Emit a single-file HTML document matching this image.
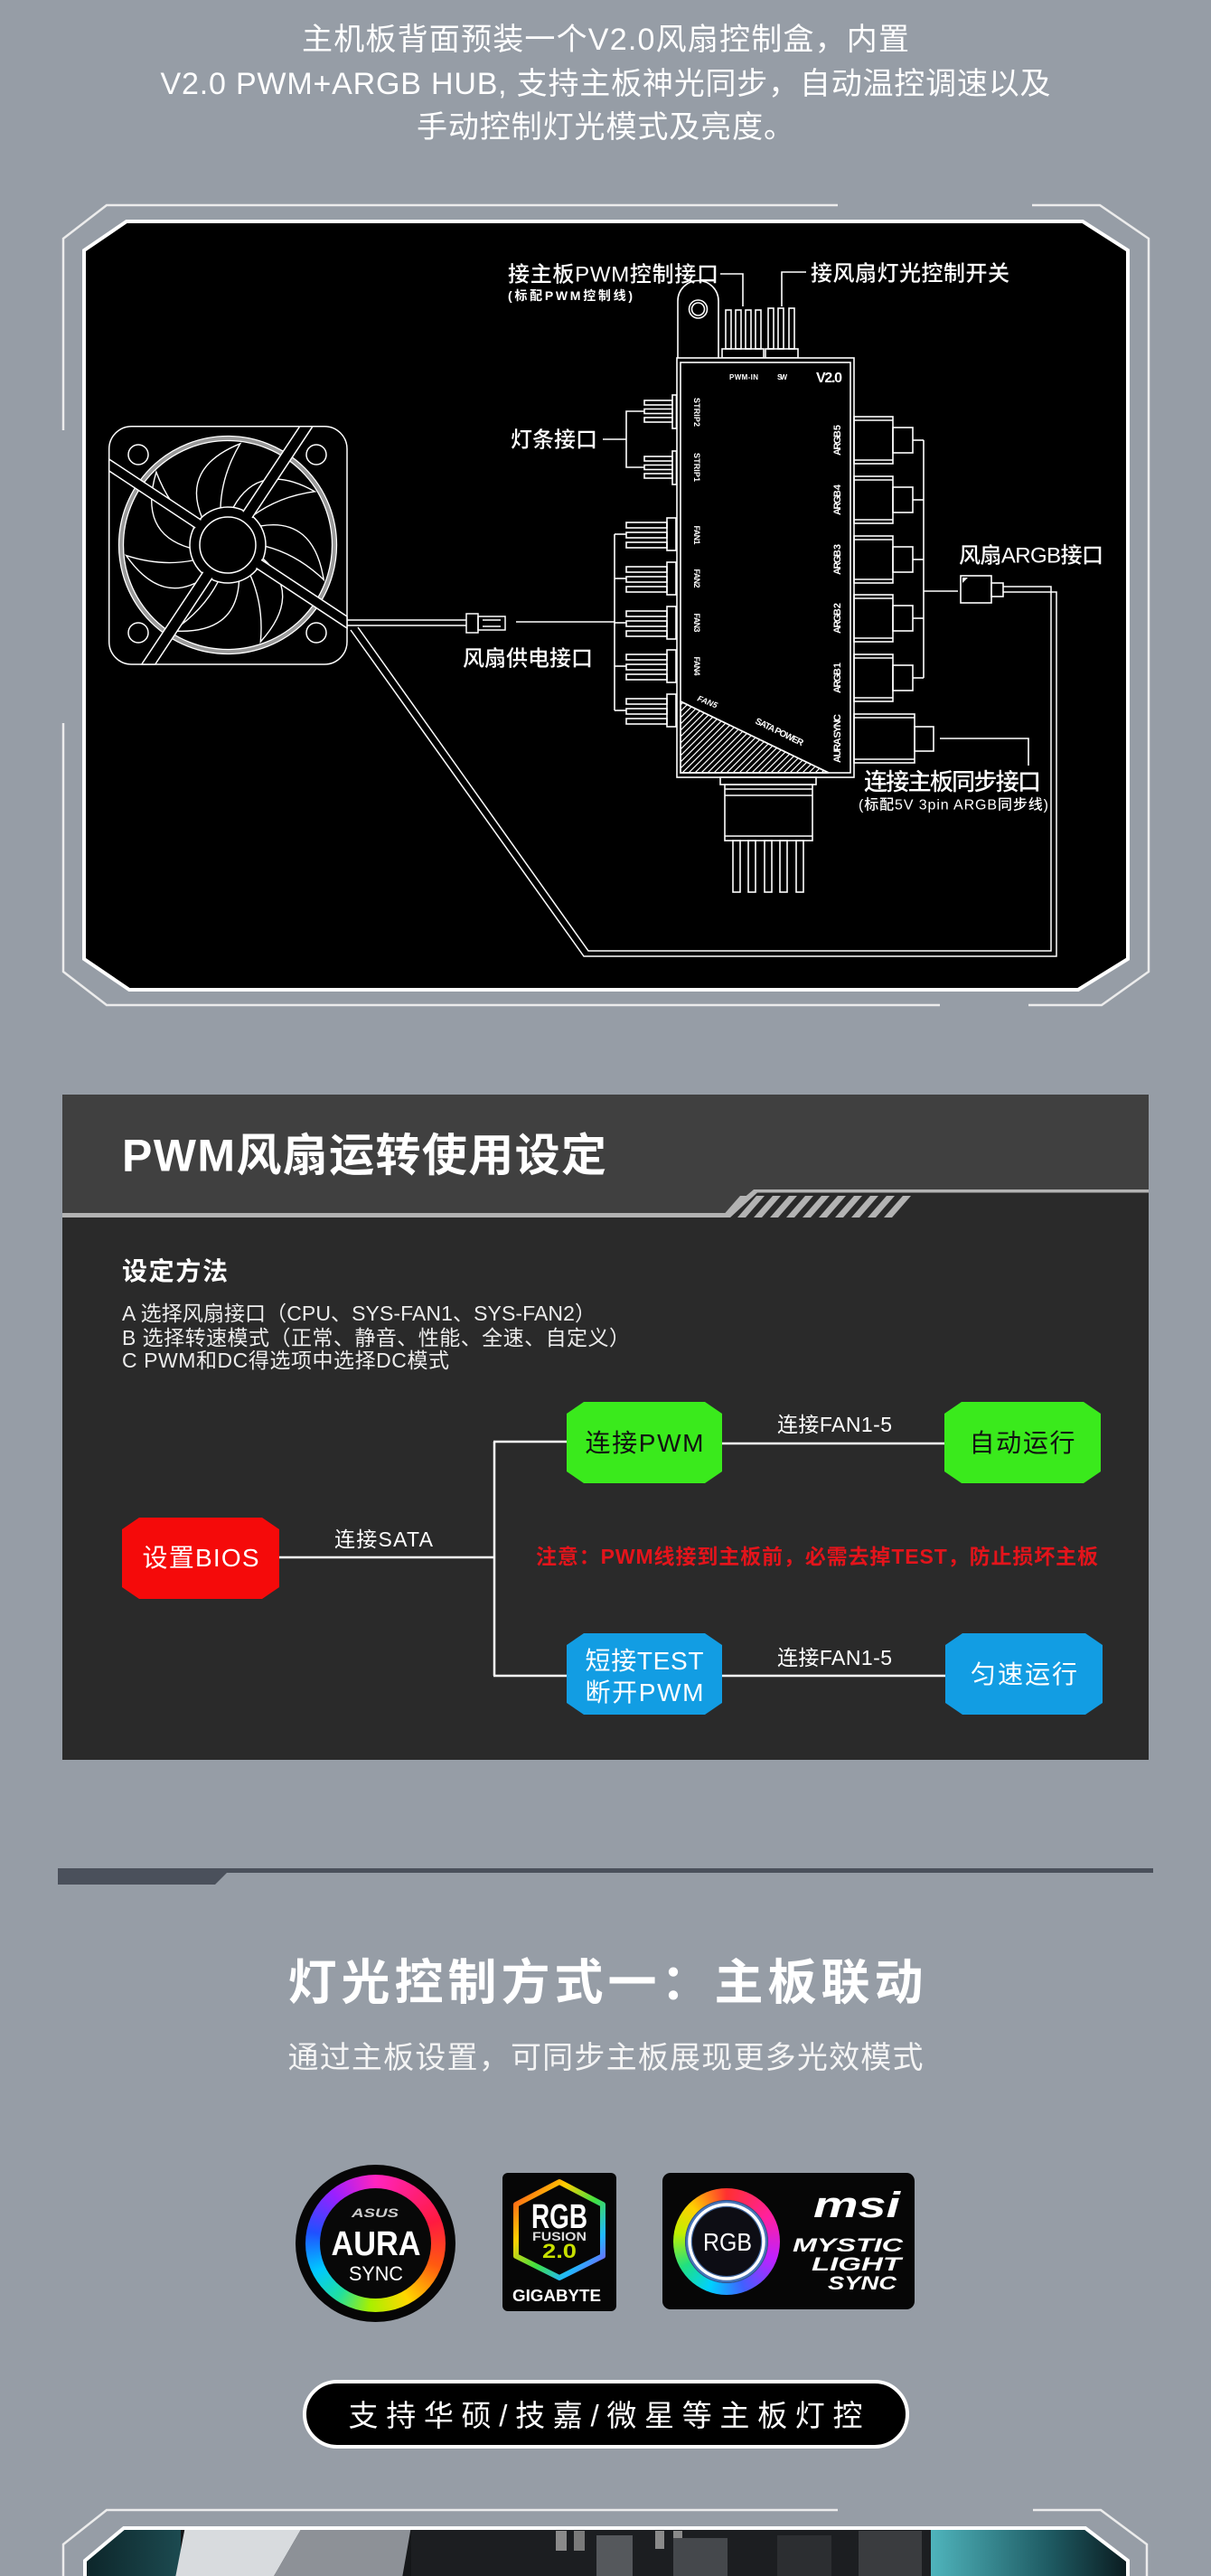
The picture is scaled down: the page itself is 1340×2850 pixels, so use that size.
<!DOCTYPE html>
<html><head><meta charset="utf-8"><style>
html,body{margin:0;padding:0;}
body{width:1340px;height:2850px;background:#969da6;position:relative;overflow:hidden;font-family:"Liberation Sans","Noto Sans CJK SC",sans-serif;}
svg text{font-family:"Liberation Sans","Noto Sans CJK SC",sans-serif;}
.abs{position:absolute;}
.ring{position:absolute;border-radius:50%;}
</style></head><body>
<svg class="abs" style="left:0;top:0" width="1340" height="2850" viewBox="0 0 1340 2850" xmlns="http://www.w3.org/2000/svg">
<defs>
<pattern id="hatch" patternUnits="userSpaceOnUse" width="7" height="7"><path d="M-1,1 L1,-1 M0,7 L7,0 M6,8 L8,6" stroke="#fff" stroke-width="1.2"/></pattern>
<clipPath id="photoClip"><polygon points="137,2797 1201,2797 1248,2833 1248,2860 94,2860 94,2833"/></clipPath>
<linearGradient id="hexg" x1="0" y1="0" x2="1" y2="1"><stop offset="0" stop-color="#ff3a20"/><stop offset="0.3" stop-color="#ffd000"/><stop offset="0.55" stop-color="#40e040"/><stop offset="0.78" stop-color="#20b8ff"/><stop offset="1" stop-color="#9a40ff"/></linearGradient>
<linearGradient id="tealR" x1="0" y1="0" x2="1" y2="0"><stop offset="0" stop-color="#4fb4bc"/><stop offset="0.6" stop-color="#1e5a62"/><stop offset="1" stop-color="#0a1a1e"/></linearGradient>
<linearGradient id="tealL" x1="0" y1="0" x2="1" y2="0"><stop offset="0" stop-color="#0c2428"/><stop offset="1" stop-color="#1c4a50"/></linearGradient>
</defs>

<!-- ===== Section 1 headline ===== -->
<g fill="#fff" font-size="34" text-anchor="middle">
<text x="670" y="55" textLength="672">主机板背面预装一个V2.0风扇控制盒，内置</text>
<text x="670" y="104" textLength="985">V2.0 PWM+ARGB HUB, 支持主板神光同步，自动温控调速以及</text>
<text x="670" y="152" textLength="418">手动控制灯光模式及亮度。</text>
</g>

<!-- frame -->
<g stroke="#ececec" stroke-width="2.5" fill="none">
<path d="M927 227 L118 227 L70 264 L70 476"/>
<path d="M70 800 L70 1075 L118 1112 L1040 1112"/>
<path d="M1138 1112 L1219 1112 L1271 1075 L1271 264 L1217 227 L1142 227"/>
</g>
<polygon points="140,245 1198,245 1248,277 1248,1061 1193,1095 143,1095 93,1061 93,277" fill="#000" stroke="#fff" stroke-width="4"/>

<!-- fan -->
<g stroke="#fff" stroke-width="1.5" fill="none">
<rect x="120.7" y="471.7" width="263.3" height="263.3" rx="25" fill="#000"/>
<circle cx="153" cy="503" r="11"/><circle cx="350" cy="503" r="11"/>
<circle cx="153" cy="700" r="11"/><circle cx="350" cy="700" r="11"/>
<circle cx="252" cy="603" r="118" stroke="#9a9a9a" stroke-width="5"/>
<circle cx="252" cy="603" r="120.5" stroke-width="1.3"/>
<circle cx="252" cy="603" r="115.5" stroke-width="1.3"/>
<g stroke-width="1.4">
<path d="M223.4,572.3 Q200.5,517.3 265.8,490.8 Q245.2,525.3 244.0,561.8 Z"/>
<path d="M258.1,561.5 Q286.9,509.3 348.3,543.8 Q308.5,549.2 279.2,571.0 Z"/>
<path d="M288.3,581.9 Q347.1,571.9 358.2,641.4 Q329.3,613.7 294.0,604.4 Z"/>
<path d="M291.1,618.2 Q335.6,657.9 288.3,710.0 Q291.9,670.1 277.1,636.7 Z"/>
<path d="M264.5,643.1 Q261.2,702.6 191.0,698.0 Q224.5,675.9 241.3,643.6 Z"/>
<path d="M228.4,637.8 Q180.0,672.3 139.6,614.6 Q177.7,627.0 213.6,620.0 Z"/>
<path d="M210.1,606.2 Q152.9,589.8 172.9,522.3 Q187.0,559.9 214.8,583.6 Z"/>
</g>
<circle cx="252" cy="603" r="42" fill="#000"/>
<polygon points="331.7,471.7 346,471.7 171.7,735 156.7,735" fill="#000"/>
<polygon points="120.7,508 384,682 384,695 120.7,521" fill="#000"/>
<circle cx="252" cy="603" r="40.5" fill="#000" stroke="none"/>
<circle cx="252" cy="603" r="31"/>
</g>

<!-- cables from fan -->
<g stroke="#fff" stroke-width="1.5" fill="none">
<line x1="384" y1="686" x2="516" y2="686"/>
<line x1="384" y1="692" x2="516" y2="692"/>
<rect x="516" y="679" width="13" height="21"/>
<rect x="529" y="682" width="30" height="15"/>
<line x1="534" y1="686" x2="554" y2="686"/>
<line x1="534" y1="693" x2="554" y2="693"/>
<line x1="571" y1="688" x2="680" y2="688"/>
<polyline points="388,697 646,1058 1169,1058 1169,655 1110,655"/>
<polyline points="396,694 651,1052 1163,1052 1163,649 1110,649"/>
</g>

<!-- hub -->
<g stroke="#fff" stroke-width="1.6" fill="none">
<path d="M750 396 L750 333 A22.5 22.5 0 0 1 795 333 L795 396" fill="#000"/>
<circle cx="772.5" cy="342" r="10"/><circle cx="772.5" cy="342" r="7"/>
<rect x="803" y="343" width="6" height="43"/><rect x="814" y="343" width="6" height="43"/>
<rect x="825" y="343" width="6" height="43"/><rect x="836" y="343" width="6" height="43"/>
<rect x="799" y="386" width="46" height="10"/>
<rect x="850" y="341" width="6" height="45"/><rect x="861" y="341" width="6" height="45"/><rect x="873" y="341" width="6" height="45"/>
<rect x="847" y="386" width="36" height="10"/>
<polyline points="797,303 822,303 822,339"/>
<polyline points="865,339 865,301 892,301"/>
<rect x="749" y="396" width="196" height="464" fill="#000"/>
<rect x="753" y="401" width="188" height="454"/>
<polygon points="753,776 753,855 917,855" fill="url(#hatch)"/>
<!-- strip connectors -->
<rect x="744" y="437" width="4.5" height="37"/>
<rect x="713" y="443" width="31" height="5"/><rect x="713" y="452.5" width="31" height="5"/><rect x="713" y="462" width="31" height="5"/>
<rect x="744" y="499" width="4.5" height="37"/>
<rect x="713" y="505" width="31" height="5"/><rect x="713" y="514.5" width="31" height="5"/><rect x="713" y="524" width="31" height="5"/>
<polyline points="713,455 693,455 693,517 713,517"/>
<line x1="667" y1="486" x2="693" y2="486"/>
<!-- fan connectors -->
<rect x="738" y="573" width="10" height="36"/><rect x="693" y="578" width="45" height="6"/><rect x="693" y="589" width="45" height="6"/><rect x="693" y="600" width="45" height="6"/>
<rect x="738" y="622" width="10" height="36"/><rect x="693" y="627" width="45" height="6"/><rect x="693" y="638" width="45" height="6"/><rect x="693" y="649" width="45" height="6"/>
<rect x="738" y="671" width="10" height="36"/><rect x="693" y="676" width="45" height="6"/><rect x="693" y="687" width="45" height="6"/><rect x="693" y="698" width="45" height="6"/>
<rect x="738" y="719" width="10" height="36"/><rect x="693" y="724" width="45" height="6"/><rect x="693" y="735" width="45" height="6"/><rect x="693" y="746" width="45" height="6"/>
<rect x="738" y="768" width="10" height="36"/><rect x="693" y="773" width="45" height="6"/><rect x="693" y="784" width="45" height="6"/><rect x="693" y="795" width="45" height="6"/>
<line x1="680" y1="591" x2="680" y2="786"/>
<line x1="680" y1="591" x2="693" y2="591"/><line x1="680" y1="640" x2="693" y2="640"/><line x1="680" y1="689" x2="693" y2="689"/><line x1="680" y1="737" x2="693" y2="737"/><line x1="680" y1="786" x2="693" y2="786"/>
<!-- ARGB connectors -->
<rect x="945" y="461" width="43" height="52"/><line x1="945" y1="465" x2="988" y2="465"/><line x1="945" y1="509" x2="988" y2="509"/><rect x="988" y="473" width="22" height="28"/><line x1="1010" y1="487" x2="1022" y2="487"/>
<rect x="945" y="527" width="43" height="52"/><line x1="945" y1="531" x2="988" y2="531"/><line x1="945" y1="575" x2="988" y2="575"/><rect x="988" y="539" width="22" height="28"/><line x1="1010" y1="553" x2="1022" y2="553"/>
<rect x="945" y="593" width="43" height="52"/><line x1="945" y1="597" x2="988" y2="597"/><line x1="945" y1="641" x2="988" y2="641"/><rect x="988" y="605" width="22" height="28"/><line x1="1010" y1="619" x2="1022" y2="619"/>
<rect x="945" y="658" width="43" height="52"/><line x1="945" y1="662" x2="988" y2="662"/><line x1="945" y1="706" x2="988" y2="706"/><rect x="988" y="670" width="22" height="28"/><line x1="1010" y1="684" x2="1022" y2="684"/>
<rect x="945" y="724" width="43" height="52"/><line x1="945" y1="728" x2="988" y2="728"/><line x1="945" y1="772" x2="988" y2="772"/><rect x="988" y="736" width="22" height="28"/><line x1="1010" y1="750" x2="1022" y2="750"/>
<line x1="1022" y1="487" x2="1022" y2="750"/>
<line x1="1022" y1="654" x2="1060" y2="654"/>
<rect x="1063" y="637" width="34" height="30"/>
<rect x="1097" y="645" width="13" height="15"/>
<!-- AURA SYNC -->
<rect x="945" y="790" width="67" height="54"/><line x1="945" y1="794" x2="1012" y2="794"/><line x1="945" y1="840" x2="1012" y2="840"/>
<rect x="1012" y="804" width="21" height="27"/>
<polyline points="1040,817 1138,817 1138,847"/>
<!-- SATA -->
<rect x="797" y="860" width="106" height="8" fill="#000"/>
<rect x="802" y="868" width="97" height="62"/>
<line x1="802" y1="873" x2="899" y2="873"/><line x1="802" y1="880" x2="899" y2="880"/><line x1="802" y1="925" x2="899" y2="925"/>
<rect x="811" y="930" width="8" height="57"/><rect x="828" y="930" width="8" height="57"/><rect x="846" y="930" width="8" height="57"/><rect x="863" y="930" width="8" height="57"/><rect x="881" y="930" width="8" height="57"/>
</g>
<line x1="753" y1="776" x2="917" y2="855" stroke="#fff" stroke-width="1.6"/>
<polygon points="1065,639 1071,639 1065,645" fill="#fff"/>

<!-- hub labels -->
<g fill="#fff" font-weight="bold">
<text x="807" y="420" font-size="8" textLength="32">PWM-IN</text>
<text x="860" y="420" font-size="8" textLength="11">SW</text>
<text x="903" y="423" font-size="16" textLength="29">V2.0</text>
<g font-size="9" text-anchor="middle">
<text transform="translate(768,456) rotate(90)" textLength="32">STRIP2</text>
<text transform="translate(768,517) rotate(90)" textLength="32">STRIP1</text>
<text transform="translate(768,592) rotate(90)" textLength="21">FAN1</text>
<text transform="translate(768,640) rotate(90)" textLength="21">FAN2</text>
<text transform="translate(768,689) rotate(90)" textLength="21">FAN3</text>
<text transform="translate(768,737) rotate(90)" textLength="21">FAN4</text>
</g>
<g font-size="11" text-anchor="middle">
<text transform="translate(930,487) rotate(-90)" textLength="34">ARGB 5</text>
<text transform="translate(930,553) rotate(-90)" textLength="34">ARGB 4</text>
<text transform="translate(930,619) rotate(-90)" textLength="34">ARGB 3</text>
<text transform="translate(930,684) rotate(-90)" textLength="34">ARGB 2</text>
<text transform="translate(930,750) rotate(-90)" textLength="34">ARGB 1</text>
<text transform="translate(930,817) rotate(-90)" textLength="54">AURA SYNC</text>
</g>
<text transform="translate(771,775) rotate(22)" font-size="9" font-style="italic">FAN5</text>
<text transform="translate(835,800) rotate(26)" font-size="10" textLength="58">SATA POWER</text>
</g>

<!-- diagram labels -->
<g fill="#fff" font-weight="500">
<text x="562" y="311.5" font-size="24" textLength="233">接主板PWM控制接口</text>
<text x="562" y="332" font-size="14" font-weight="bold" textLength="138">(标配PWM控制线)</text>
<text x="897" y="310.5" font-size="24" textLength="220">接风扇灯光控制开关</text>
<text x="565" y="494.5" font-size="24" textLength="96">灯条接口</text>
<text x="512" y="736.5" font-size="24" textLength="144">风扇供电接口</text>
<text x="1061" y="622.5" font-size="24" textLength="160">风扇ARGB接口</text>
<text x="956" y="874" font-size="26" textLength="196">连接主板同步接口</text>
<text x="950" y="895.6" font-size="16" textLength="210">(标配5V 3pin ARGB同步线)</text>
</g>

<!-- ===== Section 2 ===== -->
<rect x="69" y="1211" width="1202" height="736" fill="#2a2a2a"/>
<polygon points="69,1211 1271,1211 1271,1316 834,1316 803,1342 69,1342" fill="#404040"/>
<polygon points="69,1342 803,1342 834,1316 1271,1316 1271,1319.5 838,1319.5 808,1347 69,1347" fill="#b3b3b3"/>
<g fill="#b3b3b3">
<polygon points="798,1347 807,1347 828,1323 819,1323"/>
<polygon points="816,1347 825,1347 846,1323 837,1323"/>
<polygon points="834,1347 843,1347 864,1323 855,1323"/>
<polygon points="852,1347 861,1347 882,1323 873,1323"/>
<polygon points="870,1347 879,1347 900,1323 891,1323"/>
<polygon points="888,1347 897,1347 918,1323 909,1323"/>
<polygon points="906,1347 915,1347 936,1323 927,1323"/>
<polygon points="924,1347 933,1347 954,1323 945,1323"/>
<polygon points="942,1347 951,1347 972,1323 963,1323"/>
<polygon points="960,1347 969,1347 990,1323 981,1323"/>
<polygon points="978,1347 987,1347 1008,1323 999,1323"/>
</g>
<text x="135" y="1295.5" font-size="50" font-weight="bold" fill="#fff" textLength="536">PWM风扇运转使用设定</text>
<text x="135" y="1416" font-size="28" font-weight="bold" fill="#fff" textLength="117">设定方法</text>
<g fill="#ececec" font-size="23">
<text x="135" y="1461" textLength="524">A 选择风扇接口（CPU、SYS-FAN1、SYS-FAN2）</text>
<text x="135" y="1488" textLength="562">B 选择转速模式（正常、静音、性能、全速、自定义）</text>
<text x="135" y="1513" textLength="362">C PWM和DC得选项中选择DC模式</text>
</g>
<g stroke="#fff" stroke-width="2.5" fill="none">
<line x1="309" y1="1723" x2="548" y2="1723"/>
<line x1="547" y1="1595" x2="547" y2="1854"/>
<line x1="546" y1="1595" x2="627" y2="1595"/>
<line x1="546" y1="1854" x2="627" y2="1854"/>
<line x1="799" y1="1597" x2="1045" y2="1597"/>
<line x1="799" y1="1854" x2="1046" y2="1854"/>
</g>
<polygon points="154,1679 290,1679 309,1692 309,1756 290,1769 154,1769 135,1756 135,1692" fill="#f50a0a"/>
<polygon points="646,1551 780,1551 799,1564 799,1628 780,1641 646,1641 627,1628 627,1564" fill="#3aea1c"/>
<polygon points="1064,1551 1199,1551 1218,1564 1218,1628 1199,1641 1064,1641 1045,1628 1045,1564" fill="#3aea1c"/>
<polygon points="646,1807 780,1807 799,1820 799,1884 780,1897 646,1897 627,1884 627,1820" fill="#129de3"/>
<polygon points="1065,1807 1201,1807 1220,1820 1220,1884 1201,1897 1065,1897 1046,1884 1046,1820" fill="#129de3"/>
<g font-size="28" text-anchor="middle">
<text x="222" y="1733" fill="#fff" textLength="129">设置BIOS</text>
<text x="713" y="1606" fill="#111" textLength="131">连接PWM</text>
<text x="1131" y="1606" fill="#111" textLength="117">自动运行</text>
<text x="713" y="1847" fill="#fff" textLength="131">短接TEST</text>
<text x="713" y="1882" fill="#fff" textLength="131">断开PWM</text>
<text x="1133" y="1862" fill="#fff" textLength="118">匀速运行</text>
</g>
<g font-size="23" fill="#fff">
<text x="370" y="1711" textLength="109">连接SATA</text>
<text x="860" y="1584" textLength="127">连接FAN1-5</text>
<text x="860" y="1842" textLength="127">连接FAN1-5</text>
</g>
<text x="593" y="1730" font-size="23" font-weight="bold" fill="#e3141b" textLength="622">注意：PWM线接到主板前，必需去掉TEST，防止损坏主板</text>

<!-- ===== Section 3 ===== -->
<rect x="64" y="2067" width="1212" height="5" fill="#4a505b"/>
<polygon points="64,2067 256,2067 238,2085 64,2085" fill="#4a505b"/>
<text x="670" y="2212" font-size="54" font-weight="bold" fill="#fff" text-anchor="middle" textLength="703">灯光控制方式一：主板联动</text>
<text x="670" y="2288" font-size="34" fill="#f4f4f4" text-anchor="middle" textLength="703">通过主板设置，可同步主板展现更多光效模式</text>

<!-- logo backgrounds -->
<ellipse cx="415.5" cy="2482" rx="88.5" ry="87" fill="#060606"/>
<rect x="556" y="2404" width="126" height="153" rx="6" fill="#060606"/>
<polygon points="619,2414 667,2439 667,2496 619,2520 571,2496 571,2439" fill="none" stroke="url(#hexg)" stroke-width="6" stroke-linejoin="round"/>
<rect x="733" y="2404" width="279" height="151" rx="9" fill="#060606"/>

<!-- pill -->
<rect x="337" y="2635" width="667" height="72" rx="36" fill="#000" stroke="#fff" stroke-width="4"/>
<text x="670" y="2684" font-size="33" fill="#fff" text-anchor="middle" textLength="569">支持华硕/技嘉/微星等主板灯控</text>

<!-- ===== bottom section ===== -->
<g stroke="#ececec" stroke-width="2.5" fill="none">
<path d="M927 2777 L118 2777 L70 2815 L70 2852"/>
<path d="M1143 2777 L1218 2777 L1269 2815 L1269 2852"/>
</g>
<g clip-path="url(#photoClip)">
<rect x="90" y="2795" width="1165" height="60" fill="#151719"/>
<rect x="90" y="2795" width="110" height="60" fill="url(#tealL)"/>
<polygon points="205,2795 335,2795 302,2852 194,2852" fill="#d8dbde"/>
<polygon points="335,2795 455,2795 445,2852 302,2852" fill="#8d9197"/>
<rect x="455" y="2795" width="575" height="60" fill="#1c1e21"/>
<rect x="615" y="2800" width="12" height="22" fill="#8a8a8a"/>
<rect x="635" y="2800" width="12" height="22" fill="#7a7a7a"/>
<rect x="660" y="2805" width="40" height="45" fill="#55585c"/>
<rect x="725" y="2800" width="10" height="20" fill="#8a8a8a"/>
<rect x="745" y="2800" width="10" height="20" fill="#8a8a8a"/>
<rect x="745" y="2808" width="60" height="42" fill="#45484c"/>
<rect x="860" y="2805" width="60" height="45" fill="#2c2e31"/>
<rect x="950" y="2800" width="70" height="50" fill="#3a3c3f"/>
<rect x="1030" y="2795" width="220" height="60" fill="url(#tealR)"/>
</g>
<polygon points="137,2797 1201,2797 1248,2833 1248,2860 94,2860 94,2833" fill="none" stroke="#fff" stroke-width="4"/>
</svg>

<!-- rainbow rings -->
<div class="ring" style="left:338px;top:2406px;width:155px;height:152px;background:conic-gradient(from 0deg,#ff24c0 0deg,#ff1a40 70deg,#ff5a10 110deg,#ffd700 150deg,#a8f000 185deg,#20e0a0 215deg,#00c8ff 245deg,#2050ff 280deg,#9a20ff 320deg,#ff24c0 360deg);"></div>
<div class="ring" style="left:354px;top:2421px;width:123px;height:122px;background:#080808;"></div>
<div class="ring" style="left:745px;top:2421px;width:118px;height:118px;background:conic-gradient(from 0deg,#ff3030 0deg,#ff20a0 60deg,#c020ff 110deg,#4060ff 160deg,#00d0ff 200deg,#20e080 240deg,#c0f000 280deg,#ffd000 315deg,#ff3030 360deg);"></div>
<div class="ring" style="left:758px;top:2434px;width:92px;height:92px;background:#0a0a12;box-shadow:0 0 10px 3px rgba(80,150,255,0.7) inset;"></div>

<svg class="abs" style="left:0;top:0;pointer-events:none" width="1340" height="2850" viewBox="0 0 1340 2850" xmlns="http://www.w3.org/2000/svg">
<circle cx="804" cy="2480" r="41" fill="none" stroke="#6aaaff" stroke-width="8" opacity="0.5"/>
<circle cx="804" cy="2480" r="41" fill="none" stroke="#ffffff" stroke-width="3.5"/>
<circle cx="804" cy="2480" r="38" fill="#0d0d14"/>
<g fill="#fff" font-weight="bold" text-anchor="middle">
<text x="415" y="2453" font-size="14" font-style="italic" fill="#cfcfcf" textLength="52" lengthAdjust="spacingAndGlyphs">ASUS</text>
<text x="416" y="2495" font-size="38" textLength="99" lengthAdjust="spacingAndGlyphs">AURA</text>
<text x="416" y="2523" font-size="22" font-weight="normal" textLength="60" lengthAdjust="spacingAndGlyphs">SYNC</text>
<text x="619" y="2465" font-size="38" textLength="62" lengthAdjust="spacingAndGlyphs">RGB</text>
<text x="619" y="2479" font-size="14" fill="#dcdcdc" textLength="60" lengthAdjust="spacingAndGlyphs">FUSION</text>
<text x="619" y="2498" font-size="22" fill="#c8e000" textLength="38" lengthAdjust="spacingAndGlyphs">2.0</text>
<text x="616" y="2546" font-size="18" textLength="98" lengthAdjust="spacingAndGlyphs">GIGABYTE</text>
<text x="805" y="2490" font-size="28" font-weight="normal" textLength="54" lengthAdjust="spacingAndGlyphs">RGB</text>
<text x="948" y="2453" font-size="40" font-style="italic" textLength="96" lengthAdjust="spacingAndGlyphs">msi</text>
</g>
<g fill="#fff" font-weight="bold" font-style="italic" text-anchor="end" font-size="21">
<text x="999" y="2491" textLength="122" lengthAdjust="spacingAndGlyphs">MYSTIC</text>
<text x="997" y="2512" textLength="99" lengthAdjust="spacingAndGlyphs">LIGHT</text>
<text x="992" y="2533" textLength="76" lengthAdjust="spacingAndGlyphs">SYNC</text>
</g>
</svg>
</body></html>
